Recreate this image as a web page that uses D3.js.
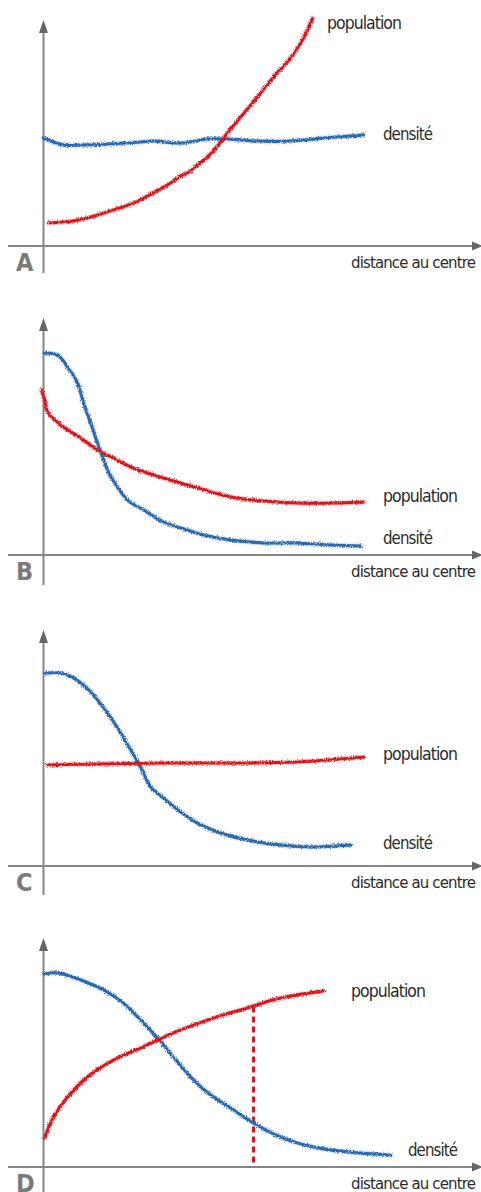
<!DOCTYPE html>
<html><head><meta charset="utf-8">
<script src="https://cdn.jsdelivr.net/npm/d3@7"></script>
<style>
html,body{margin:0;padding:0;background:#fff;}
svg{display:block;}
text{font-family:"DejaVu Sans Condensed","Liberation Sans Narrow","Roboto",sans-serif;}
</style></head>
<body>
<svg id="chart" width="481" height="1192"></svg>
<script>
// ---- data (x: distance, y: level) ----
const panelLetters = ["A", "B", "C", "D"];
const xAxisLabel = "distance au centre";
const seriesNames = ["population", "densité"];

const popA = [[0.125,1.05],[0.75,1.14],[1.18,1.32],[1.75,1.64],[2.25,1.95],[2.75,2.41],[3.1,2.77],[3.43,3.18],[3.6,3.32],[3.85,3.68],[4.1,4.05],[4.43,4.73],[4.6,5.14],[4.93,5.86],[5.35,6.77],[5.75,7.68],[6.18,8.55],[6.5,9.45],[6.73,10.36]];
const denA = [[0,4.91],[0.5,4.59],[0.93,4.59],[1.6,4.64],[2.43,4.73],[2.75,4.77],[3.43,4.68],[4.1,4.86],[4.6,4.86],[5.35,4.77],[6.18,4.77],[7.0,4.91],[8.0,5.05]];

const popB = [[-0.05,7.5],[0.03,7.05],[0.1,6.5],[0.5,5.82],[0.93,5.32],[1.35,4.77],[1.75,4.41],[2.18,4.0],[3.0,3.5],[3.85,3.05],[4.68,2.64],[5.5,2.45],[6.35,2.36],[7.18,2.36],[8.0,2.41]];
const denB = [[0.03,9.18],[0.35,9.09],[0.6,8.55],[0.85,7.82],[1.0,6.91],[1.18,6.0],[1.35,5.09],[1.48,4.45],[1.63,3.73],[1.85,3.09],[2.1,2.5],[2.5,2.05],[3.0,1.5],[3.43,1.23],[4.0,0.91],[4.68,0.68],[5.5,0.55],[6.35,0.55],[7.18,0.45],[7.93,0.41]];

const popC = [[0.1,4.59],[1.35,4.64],[3.0,4.68],[4.68,4.68],[6.35,4.73],[8.0,4.95]];
const denC = [[0.05,8.77],[0.43,8.77],[0.75,8.55],[1.18,7.91],[1.6,6.95],[1.93,6.05],[2.18,5.27],[2.43,4.5],[2.68,3.59],[3.0,3.09],[3.43,2.45],[3.85,1.95],[4.43,1.5],[5.1,1.18],[5.93,0.95],[6.75,0.86],[7.68,0.95]];

const popD = [[0.03,1.32],[0.25,2.27],[0.6,3.18],[1.1,4.09],[1.75,4.86],[2.43,5.41],[2.85,5.77],[3.43,6.23],[4.25,6.77],[5.1,7.23],[5.93,7.68],[7.0,8.0]];
const denD = [[0.03,8.77],[0.35,8.82],[0.93,8.5],[1.5,8.05],[2.0,7.45],[2.43,6.68],[2.85,5.86],[3.25,5.0],[3.68,4.09],[4.18,3.27],[4.68,2.68],[5.25,2.0],[5.93,1.36],[6.75,0.91],[7.6,0.68],[8.68,0.55]];

const markerD = [[5.25,0.2],[5.25,7.3]];

// ---- layout ----
const W = 481, H = 1192;
const RED = "#d8161f", BLUE = "#2c69ad", AXIS = "#858585", ARROW = "#666";
const axisX = 43.5;
const panels = [
  {pop: popA, den: denA, axisY: 246, topY: 20, bottomY: 273, popLab: [327, 29], denLab: [383, 140]},
  {pop: popB, den: denB, axisY: 555, topY: 318, bottomY: 585, popLab: [383, 502], denLab: [383, 544]},
  {pop: popC, den: denC, axisY: 866, topY: 630, bottomY: 895, popLab: [383, 760], denLab: [383, 849]},
  {pop: popD, den: denD, axisY: 1167, topY: 938, bottomY: 1192, popLab: [351, 997], denLab: [408, 1156], marker: markerD}
];

const svg = d3.select("#chart");
const defs = svg.append("defs");
const f = defs.append("filter").attr("id", "rough")
  .attr("filterUnits", "userSpaceOnUse").attr("x", 0).attr("y", 0).attr("width", W).attr("height", H);
f.append("feTurbulence").attr("type", "fractalNoise").attr("baseFrequency", 0.8).attr("numOctaves", 2).attr("seed", 3).attr("result", "n");
f.append("feDisplacementMap").attr("in", "SourceGraphic").attr("in2", "n").attr("scale", 3.5)
  .attr("xChannelSelector", "R").attr("yChannelSelector", "G");

const x = d3.scaleLinear().domain([0, 10]).range([axisX, axisX + 400]);

function label(g, xy, txt, len, fs, ls) {
  g.append("text").attr("x", xy[0]).attr("y", xy[1]).text(txt)
    .attr("font-size", fs).attr("fill", "#2b2b2b")
    .attr("letter-spacing", ls)
    .attr("textLength", len).attr("lengthAdjust", "spacingAndGlyphs");
}

panels.forEach((p, i) => {
  const y = d3.scaleLinear().domain([0, 10]).range([p.axisY, p.axisY - 220]);
  const g = svg.append("g");

  // axes
  g.append("line").attr("x1", 8).attr("x2", 474).attr("y1", p.axisY).attr("y2", p.axisY)
    .attr("stroke", AXIS).attr("stroke-width", 2);
  g.append("path").attr("d", `M483,${p.axisY} L472,${p.axisY - 4.5} L472,${p.axisY + 4.5} Z`).attr("fill", ARROW);
  g.append("line").attr("x1", axisX).attr("x2", axisX).attr("y1", p.topY + 10).attr("y2", p.bottomY)
    .attr("stroke", AXIS).attr("stroke-width", 2);
  g.append("path").attr("d", `M${axisX},${p.topY} L${axisX - 4.5},${p.topY + 13} L${axisX + 4.5},${p.topY + 13} Z`).attr("fill", ARROW);

  // panel letter
  g.append("text").attr("x", 16).attr("y", p.axisY + 25).text(panelLetters[i])
    .attr("font-family", "Liberation Sans, Arial, sans-serif").attr("font-weight", "bold")
    .attr("font-size", 25).attr("fill", "#7a7a7a");

  // x axis label
  label(g, [351, p.axisY + 22], xAxisLabel, 124, 16.5, -0.85);

  const line = d3.line().x(d => x(d[0])).y(d => y(d[1])).curve(d3.curveCatmullRom.alpha(0.5));

  // marker line (panel D)
  if (p.marker) {
    g.append("path").attr("d", d3.line().x(d => x(d[0])).y(d => y(d[1]))(p.marker))
      .attr("stroke", RED).attr("stroke-width", 3).attr("stroke-dasharray", "6,4").attr("fill", "none");
  }

  [[p.den, BLUE], [p.pop, RED]].forEach(([data, col]) => {
    g.append("path").attr("d", line(data)).attr("fill", "none").attr("stroke", col)
      .attr("stroke-width", 5).attr("stroke-opacity", 0.25).attr("stroke-linecap", "round")
      .attr("filter", "url(#rough)");
    g.append("path").attr("d", line(data)).attr("fill", "none").attr("stroke", col)
      .attr("stroke-width", 3).attr("stroke-linecap", "round")
      .attr("filter", "url(#rough)");
  });

  label(g, p.popLab, seriesNames[0], 74, 18, -1);
  label(g, p.denLab, seriesNames[1], 49, 18, -1);
});
</script>
</body></html>
